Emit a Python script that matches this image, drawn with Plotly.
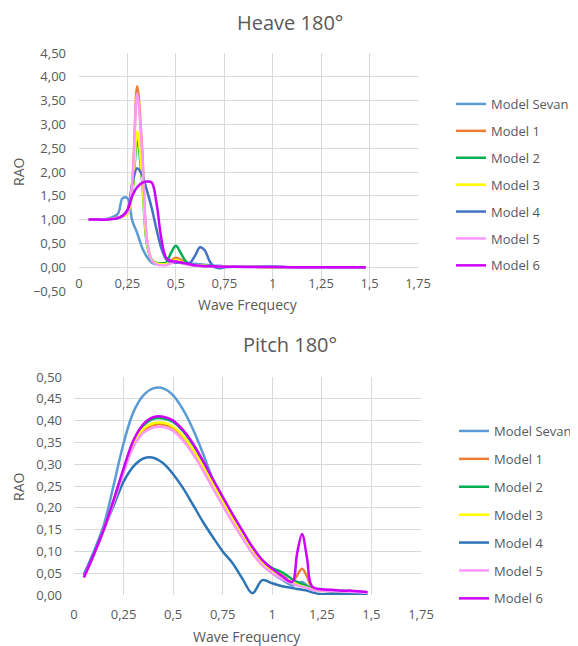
import plotly.graph_objects as go

# ---------------- data ----------------
series_names = ["Model Sevan", "Model 1", "Model 2", "Model 3", "Model 4", "Model 5", "Model 6"]
heave_colors = ["#5B9BD5", "#ED7D31", "#00B050", "#FFFF00", "#4472C4", "#FF99FF", "#CC00FF"]
pitch_colors = ["#5B9BD5", "#ED7D31", "#00B050", "#FFFF00", "#2E75B6", "#FF99FF", "#CC00FF"]

x_tickvals = [0, 0.25, 0.5, 0.75, 1, 1.25, 1.5, 1.75]
x_ticktext = ["0", "0,25", "0,5", "0,75", "1", "1,25", "1,5", "1,75"]

heave_freq = [0.05, 0.10, 0.15, 0.20, 0.225, 0.25, 0.275, 0.30, 0.325, 0.35, 0.375, 0.40,
              0.425, 0.45, 0.475, 0.50, 0.525, 0.55, 0.575, 0.60, 0.625, 0.65, 0.675, 0.70,
              0.725, 0.75, 0.80, 0.90, 1.00, 1.10, 1.20, 1.30, 1.40, 1.48]

heave_sevan = [1.00, 1.00, 1.02, 1.12, 1.45, 1.45, 0.98, 0.72, 0.42, 0.22, 0.10, 0.06,
               0.07, 0.09, 0.10, 0.10, 0.09, 0.08, 0.07, 0.07, 0.06, 0.05, 0.04, 0.03,
               0.03, 0.02, 0.01, 0.01, 0.01, 0.00, 0.00, 0.00, 0.00, 0.00]
heave_m1 = [1.00, 1.00, 1.01, 1.04, 1.07, 1.15, 1.80, 3.80, 2.55, 0.60, 0.15, 0.08,
            0.07, 0.08, 0.14, 0.20, 0.16, 0.08, 0.05, 0.04, 0.03, 0.03, 0.02, 0.02,
            0.02, 0.01, 0.01, 0.01, 0.00, 0.00, 0.00, 0.00, 0.00, 0.00]
heave_m2 = [1.00, 1.00, 1.01, 1.04, 1.07, 1.12, 1.55, 2.65, 1.85, 0.50, 0.16, 0.09,
            0.08, 0.10, 0.30, 0.45, 0.30, 0.13, 0.06, 0.04, 0.03, 0.03, 0.02, 0.02,
            0.02, 0.01, 0.01, 0.01, 0.00, 0.00, 0.00, 0.00, 0.00, 0.00]
heave_m3 = [1.00, 1.00, 1.01, 1.04, 1.07, 1.12, 1.60, 2.85, 1.95, 0.55, 0.16, 0.08,
            0.06, 0.07, 0.11, 0.15, 0.12, 0.07, 0.05, 0.04, 0.03, 0.03, 0.02, 0.02,
            0.02, 0.01, 0.01, 0.01, 0.00, 0.00, 0.00, 0.00, 0.00, 0.00]
heave_m4 = [1.00, 1.00, 1.01, 1.04, 1.08, 1.20, 1.75, 2.08, 1.95, 1.62, 1.25, 0.80,
            0.40, 0.17, 0.10, 0.10, 0.10, 0.08, 0.10, 0.25, 0.42, 0.35, 0.12, 0.00,
            -0.02, 0.00, 0.01, 0.01, 0.01, 0.00, 0.00, 0.00, 0.00, 0.00]
heave_m5 = [1.00, 1.00, 1.01, 1.04, 1.07, 1.15, 1.80, 3.65, 2.45, 0.62, 0.15, 0.06,
            0.04, 0.04, 0.08, 0.12, 0.10, 0.06, 0.04, 0.03, 0.03, 0.02, 0.02, 0.02,
            0.01, 0.01, 0.01, 0.01, 0.00, 0.00, 0.00, 0.00, 0.00, 0.00]
heave_m6 = [1.00, 1.00, 1.00, 1.03, 1.08, 1.20, 1.50, 1.68, 1.77, 1.80, 1.78, 1.35,
            0.60, 0.20, 0.13, 0.12, 0.10, 0.08, 0.06, 0.04, 0.03, 0.02, 0.02, 0.02,
            0.015, 0.01, 0.01, 0.005, 0.005, 0.00, 0.00, 0.00, 0.00, 0.00]

pitch_freq = [0.05, 0.10, 0.15, 0.20, 0.25, 0.30, 0.35, 0.40, 0.45, 0.50, 0.55, 0.60,
              0.65, 0.70, 0.75, 0.80, 0.85, 0.90, 0.95, 1.00, 1.05, 1.10, 1.125, 1.15,
              1.175, 1.20, 1.25, 1.30, 1.35, 1.40, 1.45, 1.48]

pitch_sevan = [0.048, 0.100, 0.160, 0.252, 0.348, 0.420, 0.458, 0.474, 0.474, 0.458, 0.425, 0.380,
               0.325, 0.265, 0.215, 0.172, 0.133, 0.097, 0.070, 0.050, 0.035, 0.022, 0.025, 0.030,
               0.022, 0.013, 0.010, 0.008, 0.007, 0.006, 0.005, 0.004]
pitch_m1 = [0.042, 0.093, 0.150, 0.215, 0.283, 0.343, 0.377, 0.390, 0.391, 0.383, 0.362, 0.332,
            0.295, 0.255, 0.215, 0.176, 0.139, 0.103, 0.075, 0.057, 0.045, 0.030, 0.045, 0.060,
            0.042, 0.018, 0.012, 0.011, 0.009, 0.009, 0.007, 0.006]
pitch_m2 = [0.042, 0.093, 0.150, 0.217, 0.288, 0.352, 0.389, 0.404, 0.405, 0.397, 0.376, 0.345,
            0.306, 0.264, 0.223, 0.183, 0.145, 0.108, 0.079, 0.062, 0.052, 0.036, 0.030, 0.025,
            0.020, 0.015, 0.011, 0.010, 0.009, 0.008, 0.007, 0.006]
pitch_m3 = [0.042, 0.093, 0.150, 0.215, 0.285, 0.347, 0.381, 0.394, 0.395, 0.386, 0.365, 0.334,
            0.296, 0.255, 0.214, 0.175, 0.137, 0.101, 0.073, 0.053, 0.040, 0.028, 0.024, 0.020,
            0.017, 0.013, 0.010, 0.009, 0.008, 0.008, 0.007, 0.006]
pitch_m4 = [0.045, 0.095, 0.150, 0.205, 0.260, 0.295, 0.313, 0.315, 0.302, 0.277, 0.245, 0.207,
            0.168, 0.133, 0.100, 0.073, 0.037, 0.004, 0.034, 0.027, 0.020, 0.016, 0.014, 0.012,
            0.010, 0.006, 0.002, 0.003, 0.003, 0.003, 0.003, 0.003]
pitch_m5 = [0.042, 0.092, 0.148, 0.212, 0.280, 0.340, 0.372, 0.384, 0.385, 0.376, 0.354, 0.323,
            0.286, 0.245, 0.205, 0.166, 0.130, 0.095, 0.068, 0.050, 0.037, 0.026, 0.022, 0.019,
            0.016, 0.012, 0.010, 0.009, 0.008, 0.007, 0.006, 0.005]
pitch_m6 = [0.040, 0.093, 0.150, 0.218, 0.290, 0.355, 0.392, 0.408, 0.409, 0.400, 0.378, 0.347,
            0.308, 0.266, 0.225, 0.185, 0.147, 0.110, 0.080, 0.060, 0.043, 0.030, 0.095, 0.140,
            0.085, 0.020, 0.013, 0.012, 0.010, 0.010, 0.008, 0.007]

heave_series = [heave_sevan, heave_m1, heave_m2, heave_m3, heave_m4, heave_m5, heave_m6]
pitch_series = [pitch_sevan, pitch_m1, pitch_m2, pitch_m3, pitch_m4, pitch_m5, pitch_m6]

# ---------------- figure ----------------
# the page body has an 8 px margin, so the figure is 8 px smaller and shifted
OFF = 8
W, H = 578 - OFF, 646 - OFF
FONT = "Open Sans"
GREY = "#595959"
GRID = "#D9D9D9"


def px_x(p):
    return (p - OFF) / W


def px_y(p):
    return 1 - (p - OFF) / H


fig = go.Figure()

for name, col, vals in zip(series_names, heave_colors, heave_series):
    fig.add_trace(go.Scatter(x=heave_freq, y=vals, name=name, mode="lines",
                             line=dict(color=col, width=2.5, shape="spline"),
                             xaxis="x", yaxis="y", legend="legend",
                             legendgroup="h" + name))

for name, col, vals in zip(series_names, pitch_colors, pitch_series):
    fig.add_trace(go.Scatter(x=pitch_freq, y=vals, name=name, mode="lines",
                             line=dict(color=col, width=2.5, shape="spline"),
                             xaxis="x2", yaxis="y2", legend="legend2",
                             legendgroup="p" + name))

axis_common = dict(showgrid=True, gridcolor=GRID, gridwidth=1, zeroline=False,
                   showline=False, ticks="", automargin=False,
                   tickfont=dict(family=FONT, size=13, color=GREY))

fig.update_layout(
    width=W, height=H,
    margin=dict(l=0, r=0, t=0, b=0, autoexpand=False),
    paper_bgcolor="white", plot_bgcolor="white",
    separators=", ",
    font=dict(family=FONT, color=GREY),
    xaxis=dict(domain=[px_x(79), px_x(418)], range=[0, 1.75], anchor="y",
               tickvals=x_tickvals, ticktext=x_ticktext, ticklabelstandoff=-17, **axis_common),
    yaxis=dict(domain=[px_y(291), px_y(53)], range=[-0.5, 4.5], dtick=0.5, anchor="x",
               tickformat=".2f", ticklabelstandoff=12, **axis_common),
    xaxis2=dict(domain=[px_x(74), px_x(421)], range=[0, 1.75], anchor="y2",
                tickvals=x_tickvals, ticktext=x_ticktext, ticklabelstandoff=10, **axis_common),
    yaxis2=dict(domain=[px_y(595), px_y(377)], range=[0, 0.5], dtick=0.05, anchor="x2",
                tickformat=".2f", ticklabelstandoff=11, **axis_common),
    legend=dict(x=px_x(451), y=px_y(89), xanchor="left", yanchor="top",
                font=dict(family=FONT, size=13, color=GREY), tracegroupgap=7,
                bgcolor="rgba(0,0,0,0)"),
    legend2=dict(x=px_x(454), y=px_y(416), xanchor="left", yanchor="top",
                 font=dict(family=FONT, size=13, color=GREY), tracegroupgap=8,
                 bgcolor="rgba(0,0,0,0)"),
    showlegend=True,
)

annots = [
    dict(text="Heave 180°", x=px_x(290), y=px_y(22), size=20),
    dict(text="Wave Frequecy", x=px_x(248), y=px_y(305), size=14),
    dict(text="Pitch 180°", x=px_x(290), y=px_y(344), size=20),
    dict(text="Wave Frequency", x=px_x(247), y=px_y(636), size=14),
]
for a in annots:
    fig.add_annotation(text=a["text"], x=a["x"], y=a["y"], xref="paper", yref="paper",
                       xanchor="center", yanchor="middle", showarrow=False,
                       font=dict(family=FONT, size=a["size"], color=GREY))
for yy in (172, 487):
    fig.add_annotation(text="RAO", x=px_x(18), y=px_y(yy), xref="paper", yref="paper",
                       xanchor="center", yanchor="middle", showarrow=False, textangle=-90,
                       font=dict(family=FONT, size=14, color=GREY))

fig.write_html("out.html")
